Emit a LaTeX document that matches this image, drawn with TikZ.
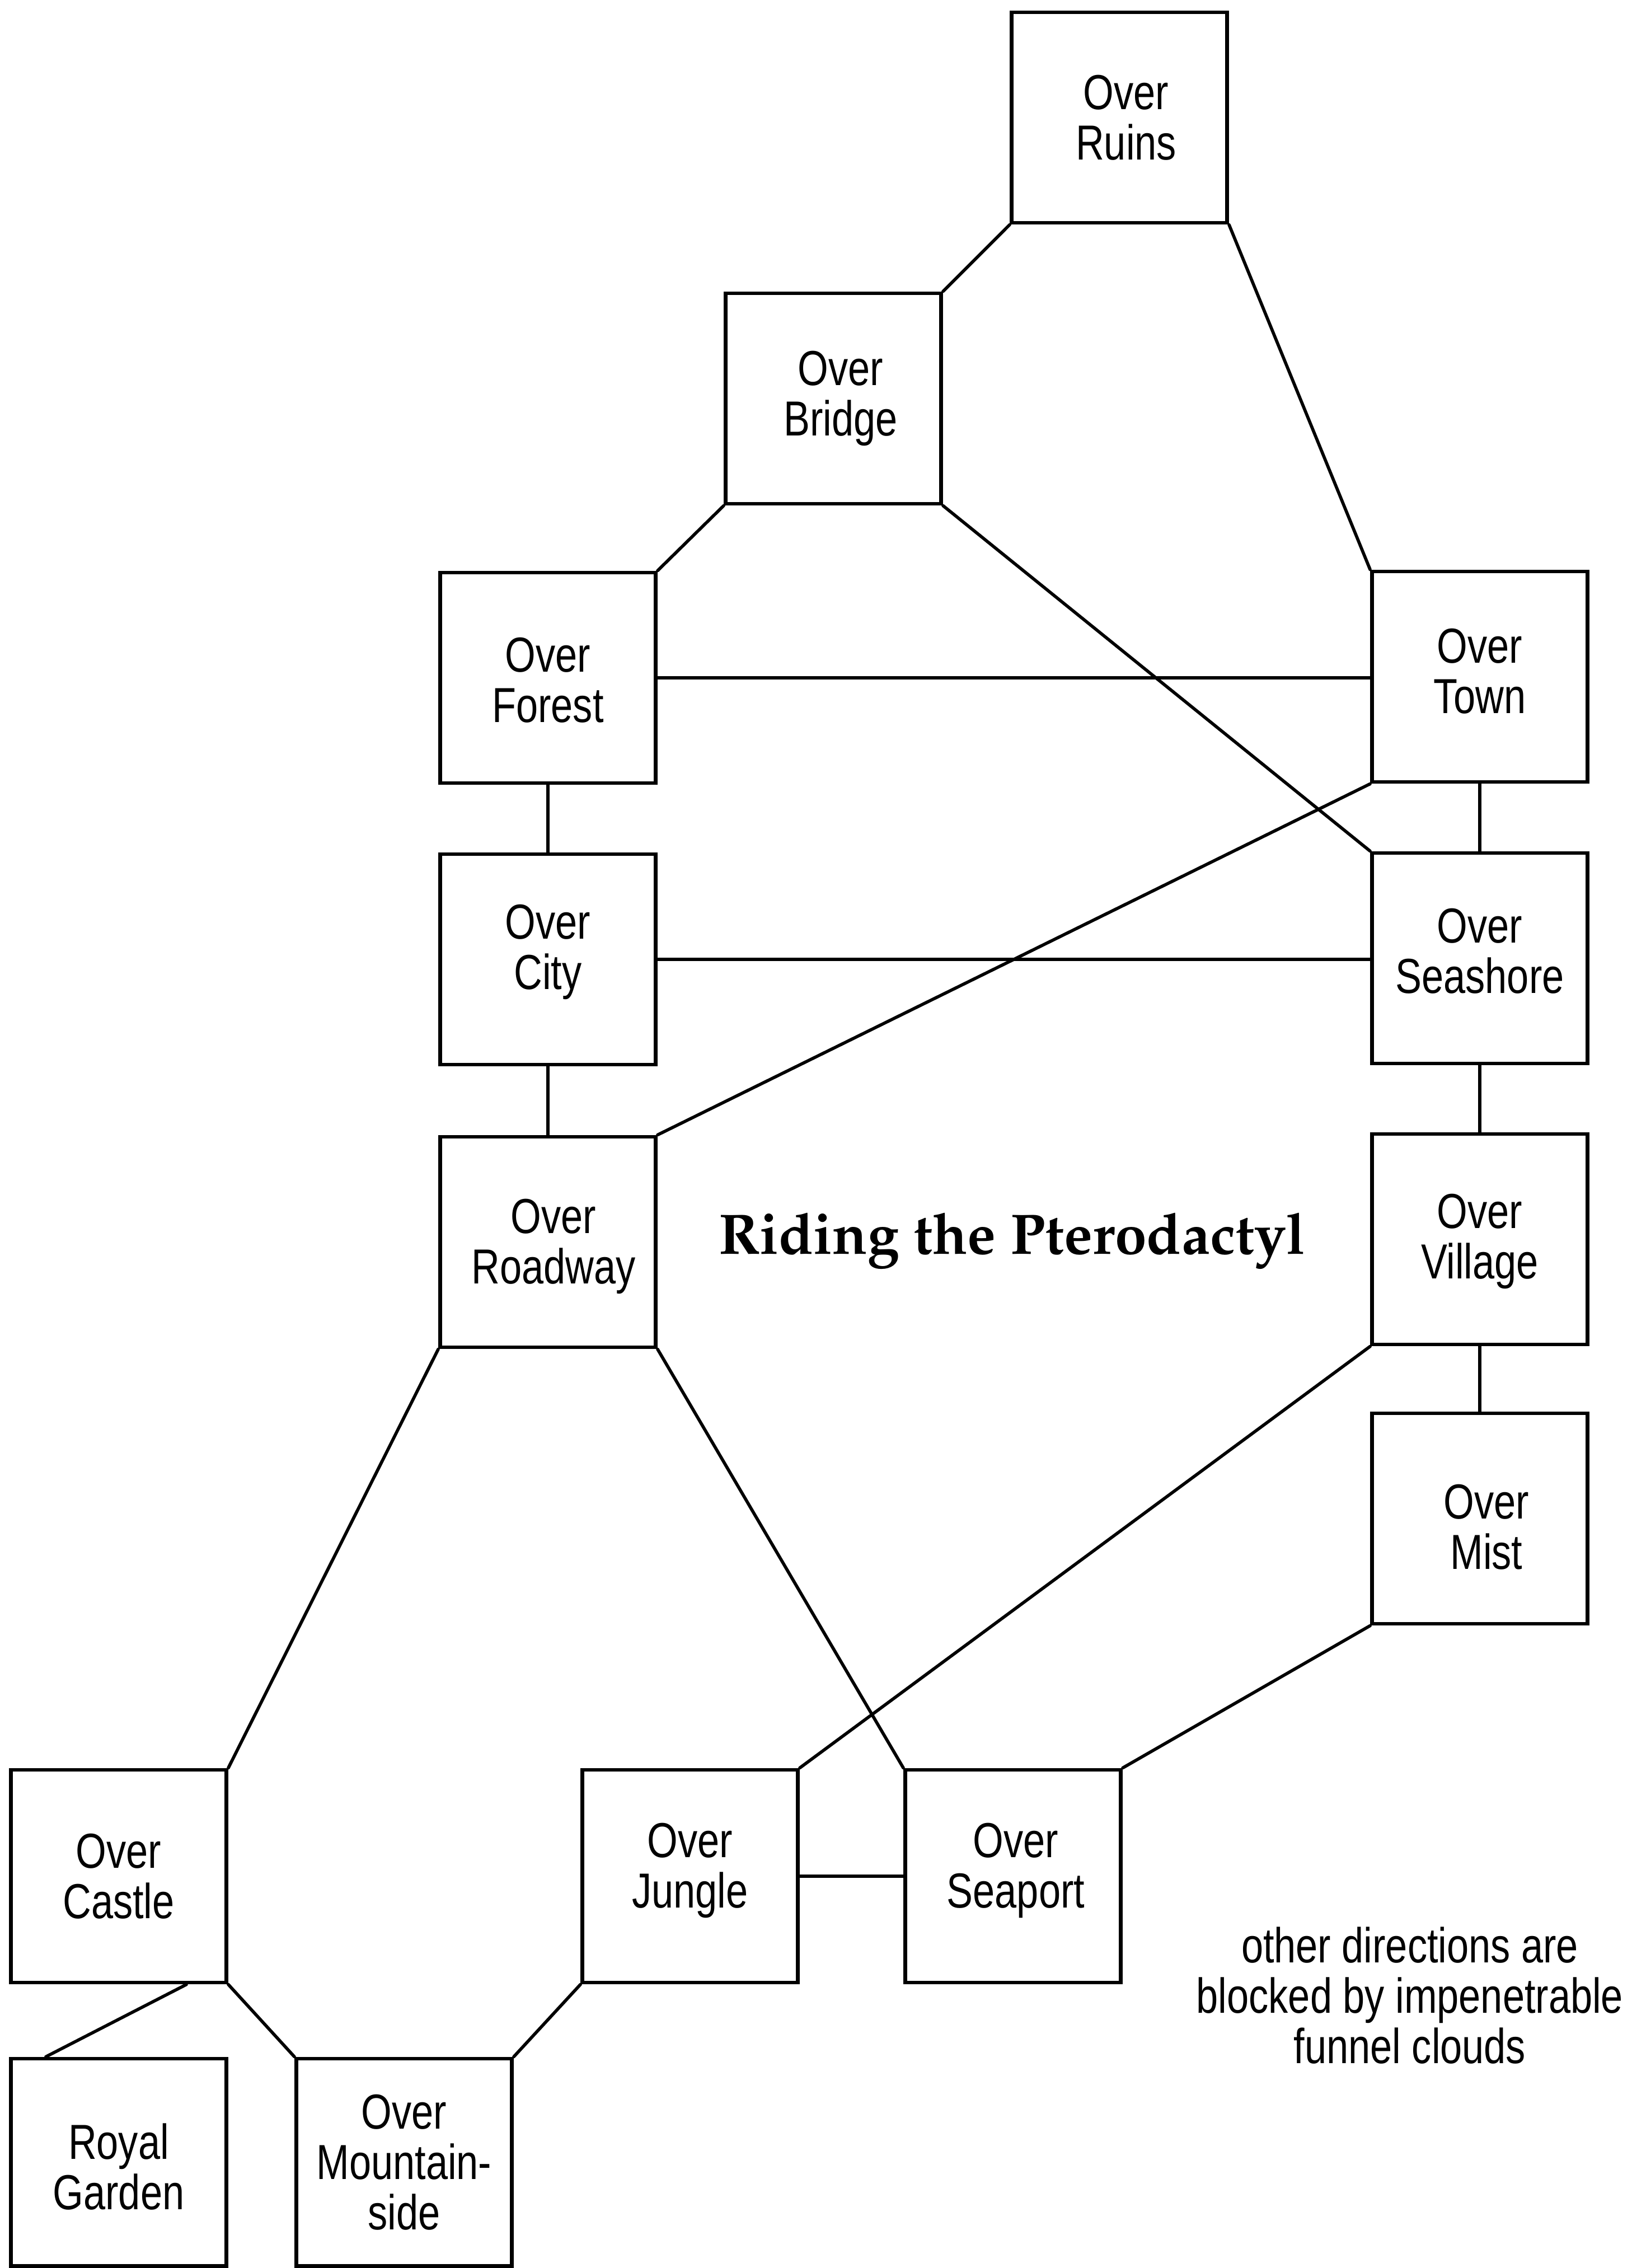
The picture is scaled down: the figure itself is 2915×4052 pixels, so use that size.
\documentclass[tikz,border=0pt]{standalone}
\usepackage{fontspec}
\newfontfamily\nodefont{Liberation Sans}[FakeStretch=0.8]
\newcommand\titlefont{\usefont{OT1}{ppl}{b}{n}\fontsize{29pt}{32pt}\selectfont}
\tikzset{
  room/.style={draw, line width=1.9pt, inner sep=0pt,
    minimum width=3.85cm, minimum height=3.76cm},
  every label/.style={align=center, inner sep=0pt,
    font=\nodefont\fontsize{25pt}{25.6pt}\selectfont},
  link/.style={line width=1.6pt, line cap=round},
  note/.style={align=center, inner sep=0pt,
    font=\nodefont\fontsize{25pt}{25.6pt}\selectfont}
}
\begin{document}
\begin{tikzpicture}[x=0.01cm, y=-0.01cm]
\useasboundingbox (0,0) rectangle (2915,4052);
\fill[white] (0,0) rectangle (2915,4052);

\node[room, label={[xshift=0.12cm]center:Over\\Ruins}] (ruins) at (2000,210) {};
\node[room, label={[xshift=0.13cm]center:Over\\Bridge}] (bridge) at (1489,712) {};
\node[room, label={[yshift=-0.04cm]center:Over\\Forest}] (forest) at (979,1211) {};
\node[room, label={[yshift=0.10cm]center:Over\\Town}] (town) at (2644,1209) {};
\node[room, label={[yshift=0.13cm]center:Over\\City}] (city) at (979,1714) {};
\node[room, label={[yshift=0.13cm]center:Over\\Seashore}] (seashore) at (2644,1712) {};
\node[room, label={[xshift=0.10cm, yshift=-0.08cm]center:Over\\Roadway}] (roadway) at (979,2219) {};
\node[room, label={[yshift=-0.04cm]center:Over\\Village}] (village) at (2644,2214) {};
\node[room, label={[xshift=0.12cm, yshift=-0.15cm]center:Over\\Mist}] (mist) at (2644,2713) {};
\node[room, minimum height=3.8cm, label={center:Over\\Castle}] (castle) at (212,3352) {};
\node[room, minimum height=3.8cm, label={[yshift=0.10cm]center:Over\\Jungle}] (jungle) at (1233,3352) {};
\node[room, minimum height=3.8cm, label={[xshift=0.05cm, yshift=0.10cm]center:Over\\Seaport}] (seaport) at (1810,3352) {};
\node[room, minimum height=3.7cm, label={[yshift=-0.08cm]center:Royal\\Garden}] (garden) at (212,3863) {};
\node[room, minimum height=3.7cm, label={center:Over\\Mountain-\\side}] (mountain) at (722,3863) {};

\node[anchor=base, inner sep=0pt, font=\titlefont] (title) at (1808,2240) {Riding the Pterodactyl};
\node[note] (blocked) at (2519,3565) {other directions are\\blocked by impenetrable\\funnel clouds};

\draw[link] (ruins.south west) -- (bridge.north east);
\draw[link] (ruins.south east) -- (town.north west);
\draw[link] (bridge.south west) -- (forest.north east);
\draw[link] (bridge.south east) -- (seashore.north west);
\draw[link] (forest.east) -- (forest.east -| town.west);
\draw[link] (forest.south) -- (city.north);
\draw[link] (town.south) -- (seashore.north);
\draw[link] (town.south west) -- (roadway.north east);
\draw[link] (city.east) -- (city.east -| seashore.west);
\draw[link] (city.south) -- (roadway.north);
\draw[link] (seashore.south) -- (village.north);
\draw[link] (village.south) -- (mist.north);
\draw[link] (village.south west) -- (jungle.north east);
\draw[link] (roadway.south west) -- (castle.north east);
\draw[link] (roadway.south east) -- (seaport.north west);
\draw[link] (mist.south west) -- (seaport.north east);
\draw[link] (jungle.east) -- (seaport.west);
\draw[link] (castle.south east) -- (mountain.north west);
\draw[link] (jungle.south west) -- (mountain.north east);
\draw[link] ([xshift=1.21cm]castle.south) -- ([xshift=-1.30cm]garden.north);
\end{tikzpicture}
\end{document}
